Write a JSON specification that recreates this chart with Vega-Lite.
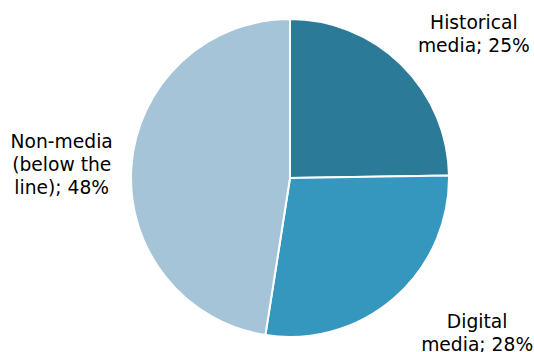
{
  "$schema": "https://vega.github.io/schema/vega-lite/v6.json",
  "autosize": "none",
  "width": 488,
  "height": 348,
  "padding": {"left": 46, "top": 4, "right": 0, "bottom": 0},
  "background": "white",
  "config": {"view": {"stroke": null}, "font": "DejaVu Sans"},
  "data": {
    "values": [
      {"cat": "Historical media", "value": 25, "idx": 1, "label": "Historical\nmedia; 25%"},
      {"cat": "Digital media", "value": 28, "idx": 2, "label": "Digital\nmedia; 28%"},
      {"cat": "Non-media (below the line)", "value": 48, "idx": 3, "label": "Non-media\n(below the\nline); 48%"}
    ]
  },
  "encoding": {
    "theta": {"field": "value", "type": "quantitative", "stack": true},
    "order": {"field": "idx", "type": "quantitative"}
  },
  "layer": [
    {
      "mark": {"type": "arc", "outerRadius": 159, "stroke": "white", "strokeWidth": 2},
      "encoding": {
        "color": {
          "field": "cat", "type": "nominal", "legend": null,
          "scale": {
            "domain": ["Historical media", "Digital media", "Non-media (below the line)"],
            "range": ["#2a7a98", "#3597bd", "#a6c4d7"]
          }
        }
      }
    },
    {
      "mark": {"type": "text", "radius": 235, "fontSize": 18.7, "lineBreak": "\n", "lineHeight": 23, "align": "center", "baseline": "middle", "color": "black", "dx": 19, "dy": 12},
      "encoding": {
        "text": {"condition": {"test": "datum.idx == 1", "field": "label"}, "value": ""}
      }
    },
    {
      "mark": {"type": "text", "radius": 235, "fontSize": 18.7, "lineBreak": "\n", "lineHeight": 23, "align": "center", "baseline": "middle", "color": "black", "dx": 33, "dy": -33},
      "encoding": {
        "text": {"condition": {"test": "datum.idx == 2", "field": "label"}, "value": ""}
      }
    },
    {
      "mark": {"type": "text", "radius": 235, "fontSize": 18.7, "lineBreak": "\n", "lineHeight": 23, "align": "center", "baseline": "middle", "color": "black", "dx": 6, "dy": -18},
      "encoding": {
        "text": {"condition": {"test": "datum.idx == 3", "field": "label"}, "value": ""}
      }
    }
  ]
}
